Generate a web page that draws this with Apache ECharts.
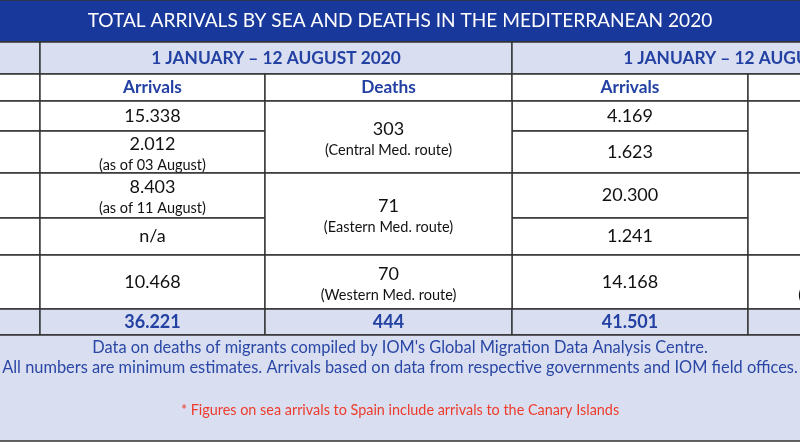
<!DOCTYPE html>
<html>
<head>
<meta charset="utf-8">
<script src="https://cdn.jsdelivr.net/npm/echarts@6/dist/echarts.min.js"></script>
<style>
  html, body { margin: 0; padding: 0; background: #fff; }
  #table { width: 800px; height: 445px; }
</style>
</head>
<body>
<div id="table"></div>
<script>
// table content
const title = 'TOTAL ARRIVALS BY SEA AND DEATHS IN THE MEDITERRANEAN 2020';
const periods = ['1 JANUARY \u2013 12 AUGUST 2020', '1 JANUARY \u2013 12 AUGUST 2019'];
const measures = ['Arrivals', 'Deaths'];
const countries = ['Italy', 'Malta', 'Greece', 'Cyprus', 'Spain*'];
const arrivals2020 = ['15.338', '2.012', '8.403', 'n/a', '10.468'];
const arrivalNotes2020 = ['', '(as of 03 August)', '(as of 11 August)', '', ''];
const deaths2020 = ['303', '71', '70'];
const arrivals2019 = ['4.169', '1.623', '20.300', '1.241', '14.168'];
const deaths2019 = ['', '', '']; // off the edge of the picture
const routes = ['(Central Med. route)', '(Eastern Med. route)', '(Western Med. route)'];
const totals = ['36.221', '444', '41.501', ''];
const notes = [
  "Data on deaths of migrants compiled by IOM's Global Migration Data Analysis Centre.",
  'All numbers are minimum estimates. Arrivals based on data from respective governments and IOM field offices.'
];
const redNote = '* Figures on sea arrivals to Spain include arrivals to the Canary Islands';

// layout: column / row edges in page pixels
const colEdges = [-184, 40, 265, 512, 748, 984];
const rowEdges = [0, 42, 74, 101, 131, 173, 218, 255, 309, 335, 441];
const routeRows = [[3, 5], [5, 7], [7, 8]];

const BLUE = '#19389b';
const TEXT_BLUE = '#2341a3';
const LIGHT = '#d9dff0';
const LINE = '#333';
const FONT = 'Lato';

const styles = {
  title: { fill: '#fff', fontSize: 19.1, fontWeight: 'normal' },
  head: { fill: TEXT_BLUE, fontSize: 17.3, fontWeight: 'bold' },
  value: { fill: '#111', fontSize: 18, fontWeight: 'normal' },
  note: { fill: '#111', fontSize: 14.5, fontWeight: 'normal' },
  total: { fill: TEXT_BLUE, fontSize: 18, fontWeight: 'bold' },
  foot: { fill: '#2a47a6', fontSize: 16.4, fontWeight: 'normal' },
  red: { fill: '#ee3b2c', fontSize: 14.4, fontWeight: 'normal' }
};

const cells = [];
const addCell = (c0, c1, r0, r1, fill, texts) => cells.push({ c0, c1, r0, r1, fill, texts });

// title and header rows
addCell(0, 5, 0, 1, BLUE, [{ text: title, style: 'title', dy: 0 }]);
addCell(0, 1, 1, 2, LIGHT, []);
addCell(0, 1, 2, 3, '#fff', []);
periods.forEach((p, i) => {
  addCell(1 + i * 2, 3 + i * 2, 1, 2, LIGHT, [{ text: p, style: 'head', dy: 0 }]);
  measures.forEach((m, j) => addCell(1 + i * 2 + j, 2 + i * 2 + j, 2, 3, '#fff', [{ text: m, style: 'head', dy: 0 }]));
});

// country rows
countries.forEach((c, i) => {
  addCell(0, 1, 3 + i, 4 + i, '#fff', [{ text: c, style: 'value', dy: 0 }]);
  const a = arrivals2020[i], n = arrivalNotes2020[i];
  addCell(1, 2, 3 + i, 4 + i, '#fff', n
    ? [{ text: a, style: 'value', dy: -8 }, { text: n, style: 'note', dy: 13 }]
    : [{ text: a, style: 'value', dy: 0 }]);
  addCell(3, 4, 3 + i, 4 + i, '#fff', [{ text: arrivals2019[i], style: 'value', dy: 0 }]);
});
routeRows.forEach(([r0, r1], k) => {
  addCell(2, 3, r0, r1, '#fff', [{ text: deaths2020[k], style: 'value', dy: -8 }, { text: routes[k], style: 'note', dy: 13 }]);
  addCell(4, 5, r0, r1, '#fff', [{ text: deaths2019[k], style: 'value', dy: -8 }, { text: routes[k], style: 'note', dy: 13 }]);
});

// totals and footnote
addCell(0, 1, 8, 9, LIGHT, [{ text: 'Total', style: 'total', dy: 0 }]);
totals.forEach((t, i) => addCell(1 + i, 2 + i, 8, 9, LIGHT, [{ text: t, style: 'total', dy: 0 }]));
addCell(0, 5, 9, 10, LIGHT, [
  { text: notes[0], style: 'foot', dy: -40 },
  { text: notes[1], style: 'foot', dy: -20 },
  { text: redNote, style: 'red', dy: 22 }
]);

const renderItem = (params, api) => {
  const cell = cells[params.dataIndex];
  const p0 = api.coord([colEdges[cell.c0], rowEdges[cell.r0]]);
  const p1 = api.coord([colEdges[cell.c1], rowEdges[cell.r1]]);
  const x = p0[0], y = p0[1], w = p1[0] - p0[0], h = p1[1] - p0[1];
  const cx = x + w / 2, cy = y + h / 2;
  const children = [{
    type: 'rect',
    shape: { x, y, width: w, height: h },
    style: { fill: cell.fill, stroke: LINE, lineWidth: 1.4 }
  }];
  cell.texts.forEach((t) => {
    const s = styles[t.style];
    children.push({
      type: 'text',
      x: cx,
      y: cy + t.dy,
      style: {
        text: t.text,
        fill: s.fill,
        fontSize: s.fontSize,
        fontWeight: s.fontWeight,
        fontFamily: FONT,
        align: 'center',
        verticalAlign: 'middle'
      }
    });
  });
  return { type: 'group', children };
};

const chart = echarts.init(document.getElementById('table'), null, { renderer: 'canvas' });
chart.setOption({
  animation: false,
  grid: { left: 0, right: 0, top: 0, bottom: 0 },
  xAxis: { type: 'value', min: 0, max: 800, show: false },
  yAxis: { type: 'value', min: 0, max: 445, inverse: true, show: false },
  series: [{
    type: 'custom',
    renderItem,
    clip: false,
    data: cells.map((c, i) => [i])
  }]
});
window.addEventListener('resize', () => chart.resize());
</script>
</body>
</html>
